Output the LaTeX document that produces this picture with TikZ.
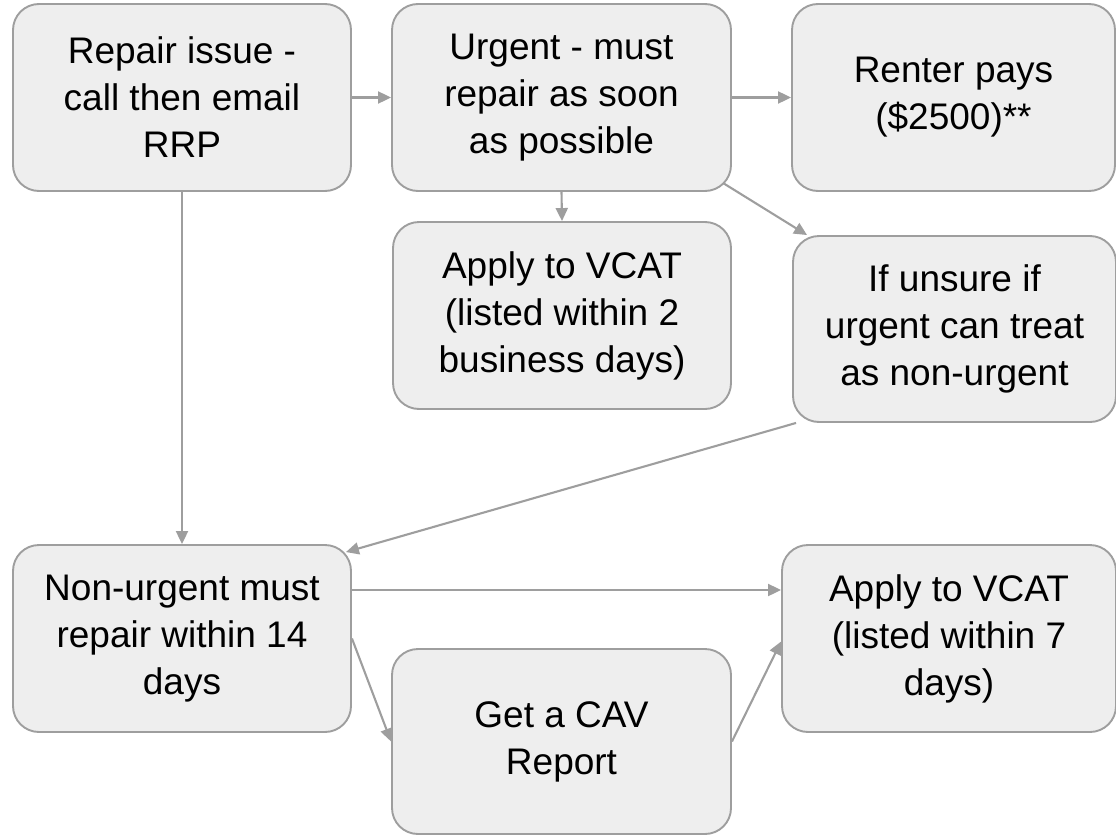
\documentclass[tikz,border=0pt]{standalone}
\usepackage{fontspec}
\setmainfont{Liberation Sans}
\usetikzlibrary{arrows.meta}
\definecolor{boxfill}{HTML}{EEEEEE}
\definecolor{lineg}{HTML}{9E9E9E}
\tikzset{
  box/.style={draw=lineg, fill=boxfill, line width=1.9pt, rounded corners=26pt,
    align=center, inner sep=0pt, text=black,
    font=\fontsize{37}{47}\selectfont},
  conn/.style={draw=lineg, line width=2.1pt,
    -{Triangle[length=13pt,width=12pt]}}
}
\begin{document}
\begin{tikzpicture}[x=1pt,y=-1pt]
\useasboundingbox (0,0) rectangle (1116,835);
\node[box, minimum width=338pt, minimum height=187pt] (b1) at (182,97.5) {Repair issue -\\call then email\\RRP};
\node[box, minimum width=339pt, minimum height=187pt] (b2) at (561.5,97.5) {Urgent - must\\repair as soon\\as possible};
\node[box, minimum width=323pt, minimum height=187pt] (b3) at (953.5,97.5) {Renter pays\\(\$2500)**};
\node[box, minimum width=338pt, minimum height=187pt] (b4) at (562,315.5) {Apply to VCAT\\(listed within 2\\business days)};
\node[box, minimum width=323pt, minimum height=186pt] (b5) at (954.5,329) {If unsure if\\urgent can treat\\as non-urgent};
\node[box, minimum width=338pt, minimum height=187pt] (b6) at (182,638.5) {Non-urgent must\\repair within 14\\days};
\node[box, minimum width=339pt, minimum height=185pt] (b7) at (561.5,741.5) {Get a CAV\\Report};
\node[box, minimum width=334pt, minimum height=187pt] (b8) at (949,638.5) {Apply to VCAT\\(listed within 7\\days)};

\draw[conn] (b1.east) -- (b2.west);
\draw[conn] (b2.east) -- (b3.west);
\draw[conn] (b2.south) -- (b4.north);
\draw[conn] ([xshift=-9pt,yshift=9pt]b2.south east) -- ([xshift=15pt]b5.north west);
\draw[conn] (b1.south) -- (b6.north);
\draw[conn] ([xshift=4pt]b5.south west) -- ([xshift=-6pt,yshift=-8pt]b6.north east);
\draw[conn] ([yshift=48.5pt]b6.east) -- ([yshift=48.5pt]b8.west);
\draw[conn] (b6.east) -- (b7.west);
\draw[conn] (b7.east) -- ([yshift=-3pt]b8.west);
\end{tikzpicture}
\end{document}
